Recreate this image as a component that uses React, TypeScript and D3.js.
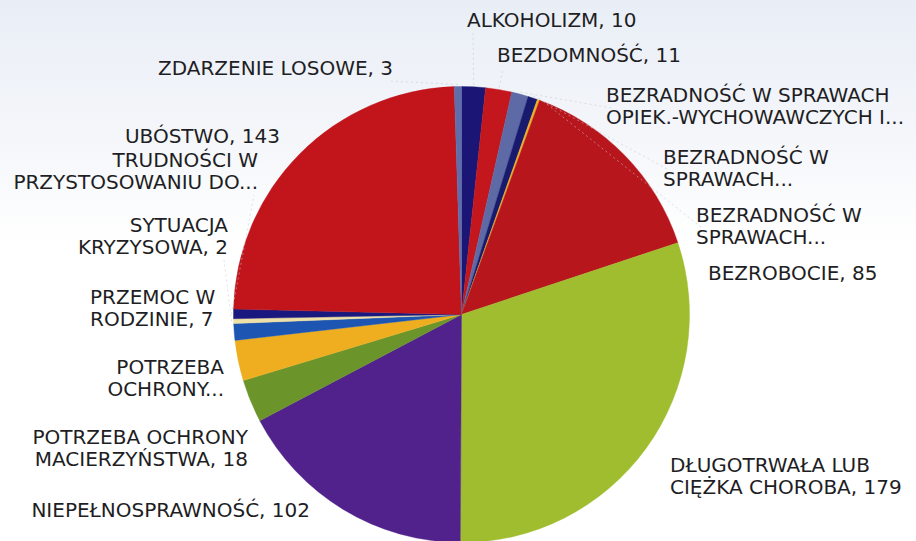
import React, { useEffect, useRef } from 'react';
import * as d3 from 'd3';

// categories in the order Excel draws them (clockwise from 12 o'clock)
const categories = [
  'ALKOHOLIZM',
  'BEZDOMNOŚĆ',
  'BEZRADNOŚĆ W SPRAWACH OPIEK.-WYCHOWAWCZYCH I...',
  'BEZRADNOŚĆ W SPRAWACH... (1)',
  'BEZRADNOŚĆ W SPRAWACH... (2)',
  'BEZROBOCIE',
  'DŁUGOTRWAŁA LUB CIĘŻKA CHOROBA',
  'NIEPEŁNOSPRAWNOŚĆ',
  'POTRZEBA OCHRONY MACIERZYŃSTWA',
  'POTRZEBA OCHRONY...',
  'PRZEMOC W RODZINIE',
  'SYTUACJA KRYZYSOWA',
  'TRUDNOŚCI W PRZYSTOSOWANIU DO...',
  'UBÓSTWO',
  'ZDARZENIE LOSOWE',
];
const values = [10, 11, 7, 4, 1, 85, 179, 102, 18, 17, 7, 2, 4, 143, 3];

// label text lines as printed on the chart
const labelLines = [
  ['ALKOHOLIZM, 10'],
  ['BEZDOMNOŚĆ, 11'],
  ['BEZRADNOŚĆ W SPRAWACH', 'OPIEK.-WYCHOWAWCZYCH I...'],
  ['BEZRADNOŚĆ W', 'SPRAWACH...'],
  ['BEZRADNOŚĆ W', 'SPRAWACH...'],
  ['BEZROBOCIE, 85'],
  ['DŁUGOTRWAŁA LUB', 'CIĘŻKA CHOROBA, 179'],
  ['NIEPEŁNOSPRAWNOŚĆ, 102'],
  ['POTRZEBA OCHRONY', 'MACIERZYŃSTWA, 18'],
  ['POTRZEBA', 'OCHRONY...'],
  ['PRZEMOC W', 'RODZINIE, 7'],
  ['SYTUACJA', 'KRYZYSOWA, 2'],
  ['TRUDNOŚCI W', 'PRZYSTOSOWANIU DO...'],
  ['UBÓSTWO, 143'],
  ['ZDARZENIE LOSOWE, 3'],
];

const colors = [
  '#1b1675', '#c3161d', '#5d6aa6', '#181a6e', '#f0b024',
  '#b8161d', '#9fbd2f', '#51228c', '#6b952b', '#efae1f',
  '#1d55b2', '#eee0a6', '#19187e', '#c1141b', '#5f6eaa',
];

// label placement: x, first baseline, anchor, leader
const labelPos: [number, number, string, boolean][] = [
  [467, 27, 'start', true],
  [497, 62, 'start', true],
  [606, 102, 'start', true],
  [663, 164, 'start', true],
  [696, 222, 'start', true],
  [708, 280, 'start', false],
  [670, 472, 'start', false],
  [310, 517, 'end', false],
  [248, 444, 'end', false],
  [224, 374, 'end', false],
  [90, 304, 'start', false],
  [228, 232, 'end', true],
  [258, 167, 'end', true],
  [280, 143, 'end', false],
  [393, 75, 'end', true],
];

const W = 916;
const H = 541;
const cx = 461.5;
const cy = 314.5;
const R = 228;
const lineH = 22;

const PieChart = () => {
  const svgRef = useRef<SVGSVGElement>(null);

  useEffect(() => {
    const svg = d3.select(svgRef.current);
    svg.selectAll('*').remove();

    const defs = svg.append('defs');
    const grad = defs.append('linearGradient')
      .attr('id', 'bg').attr('x1', 0).attr('y1', 0).attr('x2', 0).attr('y2', 1);
    grad.append('stop').attr('offset', '0%').attr('stop-color', '#e9eef6');
    grad.append('stop').attr('offset', '25%').attr('stop-color', '#f4f6fa');
    grad.append('stop').attr('offset', '45%').attr('stop-color', '#ffffff');
    svg.append('rect').attr('width', W).attr('height', H).attr('fill', 'url(#bg)');

    const data = categories.map((c, i) => ({ name: c, value: values[i], i }));

    const pie = d3.pie<any>().sort(null).value(d => d.value);
    const arcs = pie(data);
    const arc = d3.arc<any>().innerRadius(0).outerRadius(R);

    const g = svg.append('g').attr('transform', `translate(${cx},${cy})`);

    g.selectAll('path')
      .data(arcs)
      .enter()
      .append('path')
      .attr('d', arc)
      .attr('fill', d => colors[d.data.i])
      .attr('stroke', d => colors[d.data.i])
      .attr('stroke-width', 0.4);

    // faint leader lines for the crowded labels
    const edge = d3.arc<any>().innerRadius(R + 2).outerRadius(R + 2);
    arcs.forEach(a => {
      const p = labelPos[a.data.i];
      if (!p[3]) return;
      const [ex, ey] = edge.centroid(a);
      const lines = labelLines[a.data.i];
      const ly = p[1] + (lines.length - 1) * lineH + 6;
      const lx = p[2] === 'start' ? p[0] + 6 : p[0] - 4;
      svg.append('line')
        .attr('x1', cx + ex).attr('y1', cy + ey)
        .attr('x2', lx).attr('y2', p[2] === 'start' ? p[1] + 6 : ly)
        .attr('stroke', '#c3c9d6')
        .attr('stroke-width', 1)
        .attr('stroke-dasharray', '2 3')
        .attr('opacity', 0.55);
    });

    const labels = svg.append('g')
      .attr('font-family', '"DejaVu Sans", sans-serif')
      .attr('font-size', 20)
      .attr('fill', '#1e1e24');

    labelLines.forEach((lines, i) => {
      const [x, y, anchor] = labelPos[i];
      const t = labels.append('text')
        .attr('x', x).attr('y', y)
        .attr('text-anchor', anchor as string);
      lines.forEach((ln, k) => {
        t.append('tspan').attr('x', x).attr('y', y + k * lineH).text(ln);
      });
    });
  }, []);

  return <svg ref={svgRef} width={W} height={H} style={{ display: 'block' }} />;
};

export default function App() {
  return (
    <div style={{ position: 'fixed', left: 0, top: 0, width: W, height: H, overflow: 'hidden', background: '#fff' }}>
      <PieChart />
    </div>
  );
}
